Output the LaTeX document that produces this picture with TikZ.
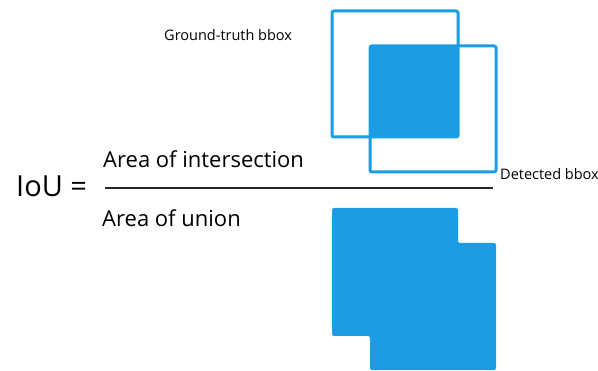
\documentclass[tikz,border=0pt]{standalone}
\usepackage{fontspec}
\setmainfont{Open Sans}
\definecolor{boxblue}{RGB}{27,157,229}
\begin{document}
\begin{tikzpicture}[x=1pt,y=-1pt,
  outline/.style={draw=boxblue,line width=3pt,rounded corners=2pt},
  solid/.style={fill=boxblue,rounded corners=2pt},
  lbl/.style={inner sep=0pt,anchor=west}]
\useasboundingbox (0,0) rectangle (598,371);
% top: ground truth and detected boxes
\fill[solid] (370,46) rectangle (458,137);
\draw[outline] (332,11) rectangle (458,137);
\draw[outline] (370,46) rectangle (496,172);
% bottom: union
\fill[solid] (332,208) -- (458,208) -- (458,243) -- (496,243) -- (496,370) -- (370,370) -- (370,336) -- (332,336) -- cycle;
% text
\node[lbl,font=\fontsize{14.5}{17}\selectfont] (gt) at (164,35) {Ground-truth bbox};
\node[lbl,font=\fontsize{14.5}{17}\selectfont] (det) at (500,174) {Detected bbox};
\node[lbl,font=\fontsize{29}{34}\selectfont] (iou) at (16,186) {IoU =};
\node[lbl,font=\fontsize{22}{26}\selectfont] (num) at (103,159) {Area of intersection};
\node[lbl,font=\fontsize{22}{26}\selectfont] (den) at (102,218) {Area of union};
\coordinate (la) at (105,188);
\coordinate (lb) at (493,188);
\draw[line width=2pt,black!85] (la) -- (lb);
\end{tikzpicture}
\end{document}
